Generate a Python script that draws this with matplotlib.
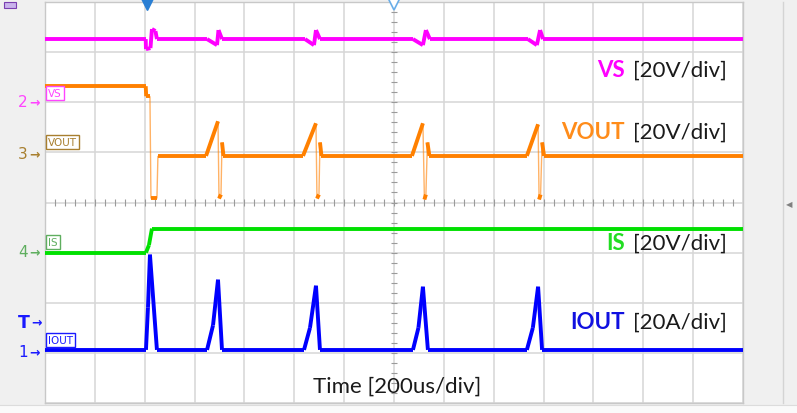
import numpy as np
import matplotlib
matplotlib.use("Agg")
import matplotlib.pyplot as plt
from matplotlib.patches import Rectangle
from matplotlib.collections import LineCollection

W, H = 797, 414

# time base: 200us/div, 14 divisions, 0 at screen centre
t_lo, t_hi = -1400, 1400
us_per_div = 200
n_vdiv = 8

# channel name, ground offset (div from bottom), units per div, colours
ch_names = ["VS", "VOUT", "IS", "IOUT"]
ch_offsets = [6.0, 4.96, 3.0, 1.0]
ch_scales = [20, 20, 20, 20]
ch_units = ["[20V/div]", "[20V/div]", "[20V/div]", "[20A/div]"]
ch_colors = ["#ff00ff", "#ff8000", "#00e000", "#0000ff"]
ch_label_colors = ["#ff00ff", "#ff8c1a", "#22dd22", "#1010e0"]
ch_marker_colors = ["#ff44ff", "#a87f2f", "#5fae5f", "#1a1aff"]
ch_numbers = ["2", "3", "4", "1"]
# line width the scope uses on fast edges, per channel
ch_edge_lw = [2.8, 1.0, 2.8, 2.2]

# waveforms (time in us, value in V or A)
vs_t = [-1400, -996, -995, -977, -971, -957, -951,
        -750, -710, -704, -690,
        -357, -321, -313, -297,
        76, 116, 128, 144,
        537, 573, 586, 598, 1400]
vs_v = [25.2, 25.2, 21.2, 21.6, 29.2, 28.4, 25.2,
        25.2, 22.8, 28.8, 25.2,
        25.2, 22.8, 28.8, 25.2,
        25.2, 22.8, 28.8, 25.2,
        25.2, 22.8, 28.8, 25.2, 25.2]

vout_t = [-1400, -996, -994, -979, -975, -951, -947,
          -754, -706, -702, -694, -690, -684,
          -365, -313, -309, -301, -297, -291,
          72, 116, 122, 128, 134, 142,
          533, 578, 582, 588, 594, 602, 1400]
vout_v = [27.2, 27.2, 23.2, 23.2, -17.6, -17.6, -0.6,
          -0.6, 13.2, -17.6, -16.0, 4.8, -0.6,
          -0.6, 12.4, -17.6, -16.0, 4.8, -0.6,
          -0.6, 12.4, -18.0, -16.0, 4.8, -0.6,
          -0.6, 12.0, -18.0, -16.0, 4.8, -0.6, -0.6]

is_t = [-1400, -995, -983, -971, 1400]
is_v = [0, 0, 3.0, 9.6, 9.6]

iout_t = [-1400, -995, -987, -979, -951,
          -750, -726, -706, -690,
          -361, -337, -313, -297,
          76, 98, 116, 136,
          533, 557, 578, 594, 1400]
iout_v = [1.2, 1.2, 18.0, 39.2, 1.2,
          1.2, 11.0, 29.2, 1.2,
          1.2, 10.0, 26.8, 1.2,
          1.2, 10.0, 26.4, 1.2,
          1.2, 10.0, 26.4, 1.2, 1.2]

traces = [(vs_t, vs_v), (vout_t, vout_v), (is_t, is_v), (iout_t, iout_v)]

fig = plt.figure(figsize=(W / 100, H / 100), dpi=100, facecolor="#f0f0f0")

# scope screen
ax = fig.add_axes([45 / W, 10 / H, 698 / W, 401 / H])
ax.set_facecolor("white")
ax.set_xlim(t_lo, t_hi)
ax.set_ylim(0, n_vdiv)
ax.set_xticks(np.arange(t_lo, t_hi + 1, us_per_div))
ax.set_yticks(np.arange(0, n_vdiv + 1))
ax.grid(True, color="#d6d6d6", lw=1.1)
ax.tick_params(length=0, labelbottom=False, labelleft=False)
for s in ax.spines.values():
    s.set_color("#c8c8c8")
    s.set_linewidth(1.0)

# small ticks along the centre cross
ax.vlines(np.arange(t_lo, t_hi, us_per_div / 5), 4 - 0.06, 4 + 0.06,
          color="#9a9a9a", lw=0.8, zorder=2)
ax.hlines(np.arange(0, n_vdiv, 0.2), -12, 12, color="#9a9a9a", lw=0.8, zorder=2)

for (t, v), off, sc, col, elw in zip(traces, ch_offsets, ch_scales,
                                     ch_colors, ch_edge_lw):
    t = np.array(t, dtype=float)
    y = off + np.array(v) / sc
    segs = np.stack([np.column_stack([t[:-1], y[:-1]]),
                     np.column_stack([t[1:], y[1:]])], axis=1)
    # fast edges are drawn thinner by the scope
    slope = np.abs(np.diff(y)) / np.maximum(np.diff(t), 1e-9)
    fast = (slope > 0.15) & (np.abs(np.diff(y)) > 0.5)
    widths = np.where(fast, elw, 2.8)
    alphas = np.where(fast & (elw < 2), 0.6, 1.0)
    cols = [matplotlib.colors.to_rgba(col, a) for a in alphas]
    lc = LineCollection(segs, colors=cols, linewidths=widths, zorder=3,
                        capstyle="butt", joinstyle="round")
    ax.add_collection(lc)

# overlay in pixel coordinates for the annotations
ov = fig.add_axes([0, 0, 1, 1])
ov.set_xlim(0, W)
ov.set_ylim(H, 0)
ov.axis("off")
ov.patch.set_alpha(0)

lab_font = "Lato"
baselines = [77, 139, 250, 329]
for name, unit, col, yb in zip(ch_names, ch_units, ch_label_colors, baselines):
    ov.text(625, yb, name, color=col, ha="right", va="baseline",
            fontsize=16, fontweight="bold", family=lab_font)
    ov.text(727, yb, unit, color="#1a1a1a", ha="right", va="baseline",
            fontsize=16, family=lab_font)

ov.text(397, 393, "Time [200us/div]", color="#1a1a1a", ha="center",
        va="baseline", fontsize=16, family=lab_font)

# channel ground markers on the left
marker_y = [103, 155, 253, 353]
for num, col, y in zip(ch_numbers, ch_marker_colors, marker_y):
    ov.text(28, y, num, color=col, ha="right", va="center", fontsize=11)
    ov.text(35, y, "\u2192", color=col, ha="center", va="center",
            fontsize=9, fontweight="bold")
ov.text(30, 323, "T", color="#1a1aff", ha="right", va="center",
        fontsize=12.5, fontweight="bold")
ov.text(37, 323, "\u2192", color="#1a1aff", ha="center", va="center",
        fontsize=9, fontweight="bold")

# channel tags inside the screen
tag_y = [94, 143, 243, 341]
for name, col, y in zip(ch_names, ch_marker_colors, tag_y):
    ov.text(48, y, name, color=col, ha="left", va="center", fontsize=7.5,
            bbox=dict(boxstyle="square,pad=0.2", fc="white", ec=col, lw=1.0))

# trigger markers on top
ov.plot(147, 5, marker="v", ms=8, color="#2a7fd4", mec="#2a7fd4")
ov.plot(394, 5, marker="v", ms=8, mfc="white", mec="#6aaee8", mew=1.2)

# scope chrome: icon, right panel, bottom strip
ov.add_patch(Rectangle((4, 3), 12, 6, fc="#c9b3ec", ec="#7a3fb0", lw=0.8))
ov.plot([783, 783], [3, 404], color="#d4d4d4", lw=1.0)
ov.text(789, 205, "\u25c0", color="#808080", ha="center", va="center", fontsize=6)
ov.add_patch(Rectangle((0, 407), W, 7, fc="#fafafa", ec="none"))
ov.plot([0, W], [406.5, 406.5], color="#dcdcdc", lw=0.8)

fig.savefig("out.png", dpi=100, facecolor=fig.get_facecolor())
